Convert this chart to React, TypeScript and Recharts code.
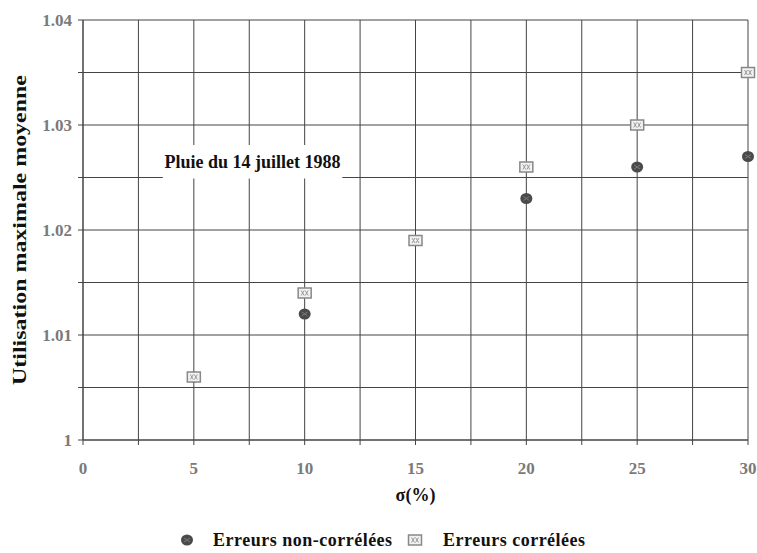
import { CartesianGrid, Label, ReferenceArea, Scatter, ScatterChart, XAxis, YAxis } from "recharts"

const sigma = [5, 10, 15, 20, 25, 30]
const nonCorrelees = [1.006, 1.012, 1.019, 1.023, 1.026, 1.027]
const correlees = [1.006, 1.014, 1.019, 1.026, 1.03, 1.035]

const xTicks = [0, 2.5, 5, 7.5, 10, 12.5, 15, 17.5, 20, 22.5, 25, 27.5, 30]
const yTicks = [1, 1.005, 1.01, 1.015, 1.02, 1.025, 1.03, 1.035, 1.04]

const titre = "Pluie du 14 juillet 1988"
const yTitle = "Utilisation maximale moyenne"
const xTitle = "σ(%)"
const labelNon = "Erreurs non-corrélées"
const labelCor = "Erreurs corrélées"

// annotation box, in data units
const noteBox = { x1: 3.6, x2: 11.7, y1: 1.0249, y2: 1.0281 }

const serif = "Liberation Serif, Times New Roman, serif"

const dataNon = sigma.map((s, i) => ({ s, v: nonCorrelees[i] }))
const dataCor = sigma.map((s, i) => ({ s, v: correlees[i] }))

const Dot = (props: any) => {
  const { cx, cy } = props
  if (cx == null || cy == null) return null
  return (
    <g>
      <ellipse cx={cx} cy={cy} rx={6} ry={5.5} fill="#4a4a4a" />
      <path d={`M${cx - 3},${cy - 2} L${cx + 3},${cy + 2} M${cx - 3},${cy + 2} L${cx + 3},${cy - 2}`} stroke="#7a7a7a" strokeWidth={1} />
    </g>
  )
}

const Box = (props: any) => {
  const { cx, cy } = props
  if (cx == null || cy == null) return null
  return (
    <g>
      <rect x={cx - 6.5} y={cy - 5} width={13} height={10} fill="#f2f2f2" stroke="#888" strokeWidth={1.5} />
      <path d={`M${cx - 3.5},${cy - 2.5} L${cx - 0.5},${cy + 2.5} M${cx - 3.5},${cy + 2.5} L${cx - 0.5},${cy - 2.5} M${cx + 0.5},${cy - 2.5} L${cx + 3.5},${cy + 2.5} M${cx + 0.5},${cy + 2.5} L${cx + 3.5},${cy - 2.5}`} stroke="#999" strokeWidth={1} />
    </g>
  )
}

const fmtY = (v: number) => {
  if (Math.round(v * 1000) % 10 !== 0) return ""
  return v === 1 ? "1" : v.toFixed(2)
}
const fmtX = (v: number) => (v % 5 === 0 ? String(v) : "")

const tickStyle = { fill: "#7a7a7a", fontSize: 17, fontWeight: 700, fontFamily: serif }

export default function App() {
  return (
    <div style={{ position: "relative", left: 8, top: 8, width: 749, height: 545, fontFamily: serif }}>
      <style>{`html, body { margin: 0; padding: 0; width: 757px; height: 553px; overflow: hidden; background: #fff; } .recharts-surface, .recharts-wrapper { overflow: visible !important; }`}</style>
      <ScatterChart width={749} height={537} margin={{ top: 12, right: 9, left: 0, bottom: 0 }}>
        <CartesianGrid stroke="#444" strokeWidth={1} />
        <XAxis
          type="number"
          dataKey="s"
          domain={[0, 30]}
          ticks={xTicks}
          tickFormatter={fmtX}
          interval={0}
          height={105}
          tickSize={5}
          tickMargin={17}
          tick={tickStyle}
          stroke="#444"
        >
          <Label
            content={({ viewBox }: any) => (
              <text
                x={viewBox.x + viewBox.width / 2}
                y={viewBox.y + 61}
                textAnchor="middle"
                fontFamily={serif}
                fontWeight={700}
                fontSize={18}
                fill="#111"
              >
                {xTitle}
              </text>
            )}
          />
        </XAxis>
        <YAxis
          type="number"
          dataKey="v"
          domain={[1, 1.04]}
          ticks={yTicks}
          tickFormatter={fmtY}
          interval={0}
          width={75}
          tickSize={5}
          tickMargin={6}
          tick={tickStyle}
          stroke="#444"
        >
          <Label
            content={({ viewBox }: any) => {
              const x = 12
              const y = viewBox.y + viewBox.height / 2
              return (
                <text
                  x={x}
                  y={y}
                  transform={`rotate(-90, ${x}, ${y})`}
                  textAnchor="middle"
                  dominantBaseline="central"
                  fontFamily={serif}
                  fontWeight={700}
                  fontSize={18}
                  fill="#111"
                  textLength={310}
                  lengthAdjust="spacingAndGlyphs"
                >
                  {yTitle}
                </text>
              )
            }}
          />
        </YAxis>
        <ReferenceArea
          x1={noteBox.x1}
          x2={noteBox.x2}
          y1={noteBox.y1}
          y2={noteBox.y2}
          fill="#fff"
          fillOpacity={1}
          stroke="none"
          label={{ value: titre, position: "center", fill: "#111", fontSize: 18, fontFamily: serif, fontWeight: 600 }}
        />
        <Scatter name={labelNon} data={dataNon} shape={Dot} isAnimationActive={false} />
        <Scatter name={labelCor} data={dataCor} shape={Box} isAnimationActive={false} />
      </ScatterChart>
      <div
        style={{
          position: "absolute",
          top: 521,
          left: 0,
          width: 741,
          height: 22,
          fontSize: 18,
          lineHeight: "22px",
          fontWeight: 700,
          letterSpacing: 0.5,
          color: "#111",
        }}
      >
        <svg width={14} height={14} style={{ position: "absolute", left: 172, top: 4 }}>
          <Dot cx={7} cy={7} />
        </svg>
        <span style={{ position: "absolute", left: 205, top: 0, whiteSpace: "nowrap" }}>{labelNon}</span>
        <svg width={16} height={14} style={{ position: "absolute", left: 399, top: 4 }}>
          <Box cx={8} cy={7} />
        </svg>
        <span style={{ position: "absolute", left: 435, top: 0, whiteSpace: "nowrap" }}>{labelCor}</span>
      </div>
    </div>
  )
}
